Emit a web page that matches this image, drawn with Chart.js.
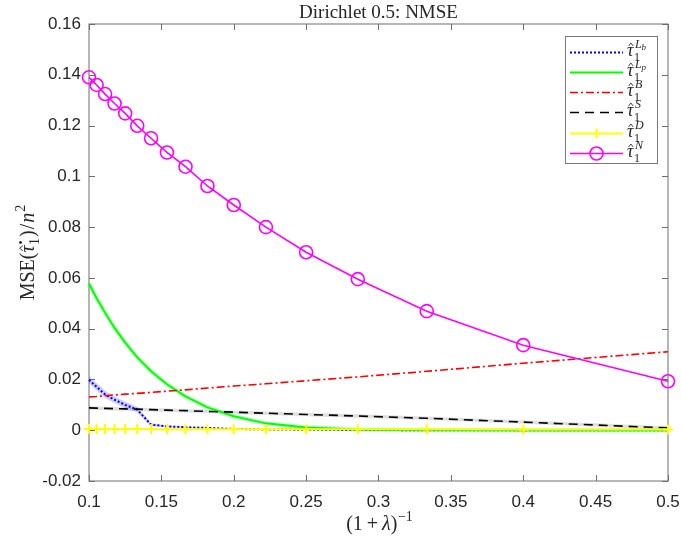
<!DOCTYPE html>
<html>
<head>
<meta charset="utf-8">
<script src="https://cdn.jsdelivr.net/npm/chart.js@4.4.1/dist/chart.umd.min.js"></script>
<style>
  html, body { margin: 0; padding: 0; background: #ffffff; }
  #wrap { width: 681px; height: 541px; }
</style>
</head>
<body>
<div id="wrap"><canvas id="c" width="681" height="541"></canvas></div>
<script>
// ---- data ----
const xVals = [0.1, 0.10526, 0.11111, 0.11765, 0.125, 0.13333, 0.14286, 0.15385, 0.16667, 0.18182, 0.2, 0.22222, 0.25, 0.28571, 0.33333, 0.4, 0.5];
const tauLb = [0.0198, 0.0171, 0.0141, 0.0120, 0.0100, 0.0081, 0.0022, 0.0015, 0.0012, 0.0009, 0.0005, 0.0003, 0.0002, 0.0001, 0.0000, 0.0000, 0.0000];
const tauLbUpper = [0.0213, 0.0186, 0.0155, 0.0133, 0.0112, 0.0092, 0.0027, 0.0018, 0.0014, 0.0010, 0.0006, 0.0004, 0.0002, 0.0001, 0.0001, 0.0000, 0.0000];
const tauLbLower = [0.0183, 0.0156, 0.0127, 0.0107, 0.0088, 0.0070, 0.0017, 0.0012, 0.0010, 0.0008, 0.0004, 0.0002, 0.0001, 0.0000, -0.0001, -0.0001, -0.0001];
const tauLp = [0.0578, 0.0520, 0.0463, 0.0403, 0.0345, 0.0287, 0.0232, 0.0181, 0.0133, 0.0090, 0.0055, 0.0027, 0.0011, 0.0003, 0.0001, 0.0000, 0.0000];
const tauB = [0.0131, 0.0133, 0.0136, 0.0139, 0.0142, 0.0145, 0.0149, 0.0154, 0.0159, 0.0166, 0.0174, 0.0183, 0.0195, 0.0210, 0.0232, 0.0264, 0.0309];
const tauS = [0.0088, 0.0087, 0.0086, 0.0085, 0.0084, 0.0083, 0.0081, 0.0079, 0.0077, 0.0074, 0.0071, 0.0067, 0.0062, 0.0056, 0.0047, 0.0032, 0.0009];
const tauD = [0.0005, 0.0005, 0.0005, 0.0005, 0.0005, 0.0005, 0.0005, 0.0004, 0.0004, 0.0004, 0.0004, 0.0004, 0.0004, 0.0004, 0.0004, 0.0003, 0.0003];
const tauN = [0.1390, 0.1360, 0.1324, 0.1287, 0.1248, 0.1199, 0.1150, 0.1094, 0.1038, 0.0962, 0.0887, 0.0800, 0.0701, 0.0595, 0.0469, 0.0335, 0.0193];
const xTicks = [0.1, 0.15, 0.2, 0.25, 0.3, 0.35, 0.4, 0.45, 0.5];
const yTicks = [-0.02, 0, 0.02, 0.04, 0.06, 0.08, 0.1, 0.12, 0.14, 0.16];
const xTickLabels = ['0.1', '0.15', '0.2', '0.25', '0.3', '0.35', '0.4', '0.45', '0.5'];
const yTickLabels = ['-0.02', '0', '0.02', '0.04', '0.06', '0.08', '0.1', '0.12', '0.14', '0.16'];
const titleText = 'Dirichlet 0.5: NMSE';
// legend superscripts: [main, sub]
const legendSups = [['L', 'b'], ['L', 'p'], ['B', ''], ['S', ''], ['D', ''], ['N', '']];

const pts = arr => arr.map((v, i) => ({ x: xVals[i], y: v }));
const SERIF = '"Liberation Serif", "DejaVu Serif", serif';
const SANS = '"Liberation Sans", Arial, sans-serif';

const datasets = [
  { label: 'τ̂1^Lb', data: pts(tauLb), borderColor: '#0000ff', borderWidth: 2, borderDash: [2, 2], pointRadius: 0, order: 5, legendIdx: 0 },
  { label: 'τ̂1^Lp', data: pts(tauLp), borderColor: '#00ff00', borderWidth: 2, pointRadius: 0, order: 4, legendIdx: 1 },
  { label: 'τ̂1^B', data: pts(tauB), borderColor: '#ff0000', borderWidth: 1.6, borderDash: [8, 3, 2, 3], pointRadius: 0, order: 3, legendIdx: 2 },
  { label: 'τ̂1^S', data: pts(tauS), borderColor: '#000000', borderWidth: 1.6, borderDash: [9, 6], pointRadius: 0, order: 2, legendIdx: 3 },
  { label: 'τ̂1^D', data: pts(tauD), borderColor: '#ffff00', borderWidth: 2, pointStyle: 'cross', pointRadius: 5, pointBorderWidth: 2, pointBorderColor: '#ffff00', order: 1, legendIdx: 4 },
  { label: 'τ̂1^N', data: pts(tauN), borderColor: '#ff00ff', borderWidth: 1.6, pointStyle: 'circle', pointRadius: 6.5, pointBorderWidth: 1.6, pointBorderColor: '#ff00ff', pointBackgroundColor: 'rgba(0,0,0,0)', order: 0, legendIdx: 5 },
  // shaded band around tau^Lb
  { label: 'bandU', data: pts(tauLbUpper), borderWidth: 0, pointRadius: 0, fill: '+1', backgroundColor: 'rgba(90,90,255,0.3)', borderColor: 'rgba(0,0,0,0)', order: 8 },
  { label: 'bandL', data: pts(tauLbLower), borderWidth: 0, pointRadius: 0, fill: false, borderColor: 'rgba(0,0,0,0)', order: 9 },
  // soft halos
  { label: 'haloLp', data: pts(tauLp), borderWidth: 4.5, pointRadius: 0, borderColor: 'rgba(0,255,0,0.22)', order: 7 },
  { label: 'haloS', data: pts(tauS), borderWidth: 3.5, pointRadius: 0, borderColor: 'rgba(0,0,0,0.12)', order: 7 }
];
datasets.forEach(d => { d.tension = 0; d.clip = false; if (d.fill === undefined) d.fill = false; });

function drawTauHat(ctx, x, baseline, size) {
  ctx.font = 'italic ' + size + 'px ' + SERIF;
  ctx.fillText('τ', x, baseline);
  const w = ctx.measureText('τ').width;
  ctx.save();
  ctx.lineWidth = 0.9;
  ctx.beginPath();
  ctx.moveTo(x + w * 0.25, baseline - size * 0.56);
  ctx.lineTo(x + w * 0.6, baseline - size * 0.72);
  ctx.lineTo(x + w * 0.95, baseline - size * 0.56);
  ctx.stroke();
  ctx.restore();
  return w;
}

function drawLegendLabel(ctx, x, yc, sup) {
  const size = 18;
  const baseline = yc + 4;
  const w = drawTauHat(ctx, x, baseline, size);
  const sx = x + w + 0.5;
  ctx.font = '12px ' + SERIF;
  ctx.fillText('1', sx, baseline + 5);
  ctx.font = 'italic 12px ' + SERIF;
  ctx.fillText(sup[0], sx + 1, baseline - 8);
  if (sup[1]) {
    const w2 = ctx.measureText(sup[0]).width;
    ctx.font = 'italic 9px ' + SERIF;
    ctx.fillText(sup[1], sx + 1 + w2, baseline - 6);
  }
}

const framePlugin = {
  id: 'frame',
  beforeDatasetsDraw(chart) {
    const { ctx, chartArea: a, scales } = chart;
    ctx.save();
    ctx.strokeStyle = '#6e6e6e';
    ctx.lineWidth = 1;
    ctx.strokeRect(a.left, a.top, a.right - a.left, a.bottom - a.top);
    ctx.beginPath();
    xTicks.forEach(v => {
      const px = Math.round(scales.x.getPixelForValue(v)) + 0.5;
      ctx.moveTo(px, a.bottom); ctx.lineTo(px, a.bottom - 6);
      ctx.moveTo(px, a.top); ctx.lineTo(px, a.top + 6);
    });
    yTicks.forEach(v => {
      const py = Math.round(scales.y.getPixelForValue(v)) + 0.5;
      ctx.moveTo(a.left, py); ctx.lineTo(a.left + 6, py);
      ctx.moveTo(a.right, py); ctx.lineTo(a.right - 6, py);
    });
    ctx.stroke();
    ctx.restore();
  }
};

const textPlugin = {
  id: 'texts',
  afterDraw(chart) {
    const { ctx, chartArea: a } = chart;
    ctx.save();
    ctx.fillStyle = '#262626';
    ctx.strokeStyle = '#262626';
    // title
    ctx.font = '19px ' + SERIF;
    ctx.textAlign = 'center';
    ctx.textBaseline = 'alphabetic';
    ctx.fillText(titleText, (a.left + a.right) / 2, 18);
    ctx.textAlign = 'left';

    // x label: (1 + λ)^-1
    const xItems = [
      { t: '(1', f: '20px ' + SERIF, dy: 0, gap: 4 },
      { t: '+', f: '20px ' + SERIF, dy: 0, gap: 4 },
      { t: 'λ', f: 'italic 20px ' + SERIF, dy: 0, gap: 0 },
      { t: ')', f: '20px ' + SERIF, dy: 0, gap: 0.5 },
      { t: '−1', f: '14px ' + SERIF, dy: -9, gap: 0 }
    ];
    let tw = 0;
    xItems.forEach(it => { ctx.font = it.f; tw += ctx.measureText(it.t).width + it.gap; });
    let cx = (a.left + a.right) / 2 - tw / 2 + 1;
    const xb = 530;
    xItems.forEach(it => { ctx.font = it.f; ctx.fillText(it.t, cx, xb + it.dy); cx += ctx.measureText(it.t).width + it.gap; });

    // y label: MSE(τ̂1•)/n^2, rotated
    ctx.save();
    ctx.translate(34, (a.top + a.bottom) / 2);
    ctx.rotate(-Math.PI / 2);
    const F = 20;
    ctx.font = F + 'px ' + SERIF; const w1 = ctx.measureText('MSE(').width;
    ctx.font = 'italic ' + F + 'px ' + SERIF; const wt = ctx.measureText('τ').width;
    ctx.font = '14px ' + SERIF; const ws = ctx.measureText('1').width;
    ctx.font = F + 'px ' + SERIF; const w3a = ctx.measureText(')').width; const w3b = ctx.measureText('/').width;
    ctx.font = 'italic ' + F + 'px ' + SERIF; const wn = ctx.measureText('n').width;
    ctx.font = '14px ' + SERIF; const w2 = ctx.measureText('2').width;
    const total = w1 + wt + ws + 1.5 + w3a + 1 + w3b + 1 + wn + w2 + 1;
    let yx = -total / 2;
    const yb = 0;
    ctx.font = F + 'px ' + SERIF; ctx.fillText('MSE(', yx, yb); yx += w1;
    drawTauHat(ctx, yx, yb, F); yx += wt;
    ctx.font = '14px ' + SERIF; ctx.fillText('1', yx + 0.5, yb + 5);
    ctx.font = '12px ' + SERIF; ctx.fillText('•', yx + 1, yb - 9);
    yx += ws + 1.5;
    ctx.font = F + 'px ' + SERIF; ctx.fillText(')', yx, yb); yx += w3a + 1;
    ctx.fillText('/', yx, yb); yx += w3b + 1;
    ctx.font = 'italic ' + F + 'px ' + SERIF; ctx.fillText('n', yx, yb); yx += wn + 1;
    ctx.font = '14px ' + SERIF; ctx.fillText('2', yx, yb - 9);
    ctx.restore();

    // legend
    const L = { left: 565, top: 36, right: 657, bottom: 163 };
    ctx.fillStyle = '#ffffff';
    ctx.fillRect(L.left, L.top, L.right - L.left, L.bottom - L.top);
    ctx.strokeStyle = '#7a7a7a';
    ctx.lineWidth = 1;
    ctx.strokeRect(L.left + 0.5, L.top + 0.5, L.right - L.left, L.bottom - L.top);
    const rows = [52, 72, 92, 112, 133, 153];
    const main = chart.data.datasets.filter(d => d.legendIdx !== undefined);
    main.forEach(d => {
      const i = d.legendIdx;
      const y = rows[i] + 0.5;
      ctx.save();
      ctx.strokeStyle = d.borderColor;
      ctx.lineWidth = d.borderWidth;
      ctx.setLineDash(d.borderDash || []);
      ctx.beginPath(); ctx.moveTo(570, y); ctx.lineTo(623, y); ctx.stroke();
      ctx.setLineDash([]);
      if (d.pointStyle === 'cross') {
        ctx.lineWidth = 2;
        ctx.beginPath(); ctx.moveTo(596.5, y - 5); ctx.lineTo(596.5, y + 5); ctx.stroke();
      } else if (d.pointStyle === 'circle') {
        ctx.lineWidth = 1.6;
        ctx.beginPath(); ctx.arc(596.5, y, 6.5, 0, Math.PI * 2); ctx.stroke();
      }
      ctx.restore();
      ctx.fillStyle = '#262626';
      ctx.strokeStyle = '#262626';
      drawLegendLabel(ctx, 627, rows[i], legendSups[i]);
    });
    ctx.restore();
  }
};

new Chart(document.getElementById('c'), {
  type: 'line',
  data: { datasets },
  options: {
    responsive: false,
    animation: false,
    devicePixelRatio: 1,
    layout: { padding: { top: 24, right: 13, left: 0, bottom: 0 } },
    plugins: { legend: { display: false }, title: { display: false }, tooltip: { enabled: false } },
    scales: {
      x: {
        type: 'linear', min: 0.1, max: 0.5,
        afterBuildTicks: s => { s.ticks = xTicks.map(v => ({ value: v })); },
        afterFit: s => { s.height = 60; s.paddingLeft = 0; s.paddingRight = 0; },
        grid: { display: false, drawTicks: false }, border: { display: false },
        ticks: {
          autoSkip: false, maxRotation: 0, padding: 11, color: '#262626',
          font: { family: SANS, size: 17 },
          callback: (v) => { const i = xTicks.findIndex(t => Math.abs(t - v) < 1e-9); return i >= 0 ? xTickLabels[i] : ''; }
        }
      },
      y: {
        type: 'linear', min: -0.02, max: 0.16,
        afterBuildTicks: s => { s.ticks = yTicks.map(v => ({ value: v })); },
        afterFit: s => { s.width = 89; s.paddingTop = 0; s.paddingBottom = 0; },
        grid: { display: false, drawTicks: false }, border: { display: false },
        ticks: {
          autoSkip: false, padding: 8, color: '#262626',
          font: { family: SANS, size: 17 },
          callback: (v) => { const i = yTicks.findIndex(t => Math.abs(t - v) < 1e-9); return i >= 0 ? yTickLabels[i] : ''; }
        }
      }
    }
  },
  plugins: [framePlugin, textPlugin]
});
</script>
</body>
</html>
